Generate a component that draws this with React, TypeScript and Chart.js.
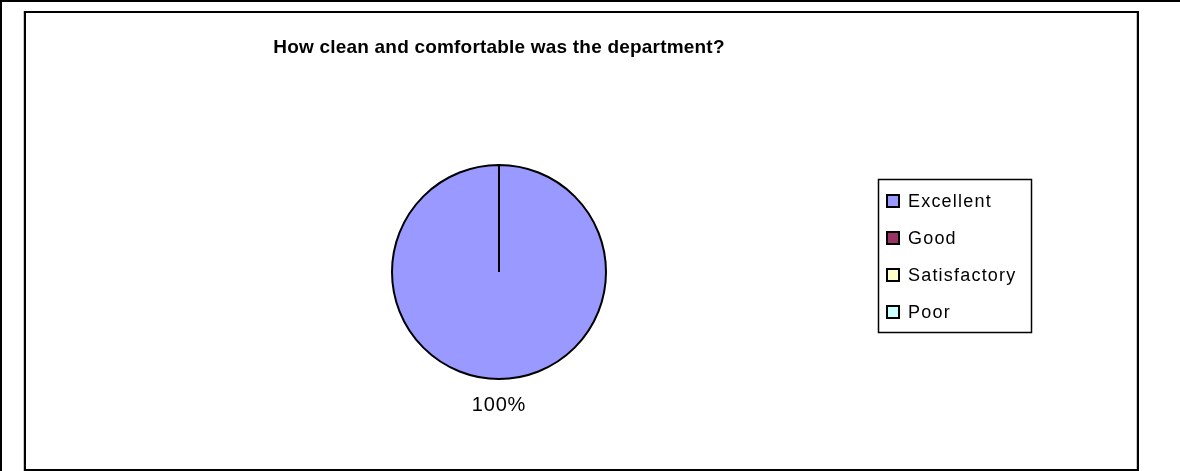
import { useEffect, useRef } from "react";
import { Chart, registerables } from "chart.js";

Chart.register(...registerables);

const TITLE = "How clean and comfortable was the department?";
const categories = ["Excellent", "Good", "Satisfactory", "Poor"];
const values = [100, 0, 0, 0];
const colors = ["#9999FF", "#993366", "#FFFFCC", "#CCFFFF"];

const FONT = "'Liberation Sans', Arial, sans-serif";

const framePlugin = {
  id: "frame",
  beforeDraw(chart: any) {
    const ctx = chart.ctx as CanvasRenderingContext2D;
    const W = chart.width;
    const H = chart.height;
    ctx.save();
    ctx.fillStyle = "#ffffff";
    ctx.fillRect(0, 0, W, H);
    ctx.fillStyle = "#000000";
    ctx.fillRect(0, 0, W, 2);
    ctx.fillRect(0, 0, 2, H);
    // inner chart box
    ctx.fillStyle = "#c8c8c8";
    ctx.fillRect(23, 11, 1, 460);
    ctx.fillRect(1136, 13, 1, 456);
    ctx.fillStyle = "#000000";
    ctx.fillRect(24, 11, 1115, 2);
    ctx.fillRect(24, 11, 2, 460);
    ctx.fillRect(1137, 11, 2, 460);
    ctx.fillRect(24, 469, 1115, 2);
    // title
    ctx.font = `bold 19px ${FONT}`;
    (ctx as any).letterSpacing = "0.2px";
    ctx.textAlign = "center";
    ctx.textBaseline = "alphabetic";
    ctx.fillText(TITLE, 499, 53);
    ctx.restore();
  },
};

const overlayPlugin = {
  id: "overlay",
  afterDatasetsDraw(chart: any) {
    const ctx = chart.ctx as CanvasRenderingContext2D;
    const meta = chart.getDatasetMeta(0);
    const data = chart.data.datasets[0].data as number[];
    const total = data.reduce((a, b) => a + b, 0);
    ctx.save();
    // percentage labels outside end
    ctx.font = `20px ${FONT}`;
    (ctx as any).letterSpacing = "0.8px";
    ctx.fillStyle = "#000";
    ctx.textAlign = "center";
    ctx.textBaseline = "middle";
    meta.data.forEach((arc: any, i: number) => {
      const v = data[i];
      if (!v) return;
      const p = arc.getProps(["x", "y", "startAngle", "endAngle", "outerRadius"], true);
      const mid = (p.startAngle + p.endAngle) / 2;
      const r = p.outerRadius + 26;
      const pct = Math.round((v / total) * 100) + "%";
      ctx.fillText(pct, p.x + Math.cos(mid) * r, p.y + Math.sin(mid) * r);
    });
    // legend box
    const lx = 878, ly = 179, lw = 153, lh = 153;
    ctx.fillStyle = "#fff";
    ctx.fillRect(lx, ly, lw, lh);
    ctx.strokeStyle = "#000";
    ctx.lineWidth = 1.5;
    ctx.strokeRect(lx + 0.5, ly + 0.5, lw, lh);
    ctx.font = `18px ${FONT}`;
    (ctx as any).letterSpacing = "1.2px";
    ctx.textAlign = "left";
    ctx.textBaseline = "middle";
    const labels = chart.data.labels as string[];
    const bgs = chart.data.datasets[0].backgroundColor as string[];
    labels.forEach((lab, i) => {
      const cy = 201 + i * 37;
      ctx.fillStyle = bgs[i];
      ctx.fillRect(887, cy - 6, 12, 12);
      ctx.lineWidth = 2;
      ctx.strokeStyle = "#000";
      ctx.strokeRect(887, cy - 6, 12, 12);
      ctx.fillStyle = "#000";
      ctx.fillText(lab, 908, cy + 1);
    });
    ctx.restore();
  },
};

export default function App() {
  const ref = useRef<HTMLCanvasElement | null>(null);
  useEffect(() => {
    document.body.style.margin = "0";
    const canvas = ref.current!;
    const chart = new Chart(canvas, {
      type: "pie",
      data: {
        labels: categories,
        datasets: [
          {
            data: values,
            backgroundColor: colors,
            borderColor: "#000000",
            borderWidth: 2,
          },
        ],
      },
      options: {
        responsive: false,
        animation: false,
        devicePixelRatio: 1,
        radius: 107,
        layout: { padding: { left: 392, right: 574, top: 165, bottom: 92 } },
        plugins: {
          legend: { display: false },
          title: { display: false },
          tooltip: { enabled: false },
        },
      } as any,
      plugins: [framePlugin, overlayPlugin],
    });
    return () => chart.destroy();
  }, []);
  return (
    <div style={{ position: "absolute", left: 0, top: 0, width: 1180, height: 471 }}>
      <canvas ref={ref} width={1180} height={471} style={{ width: 1180, height: 471, display: "block" }} />
    </div>
  );
}
